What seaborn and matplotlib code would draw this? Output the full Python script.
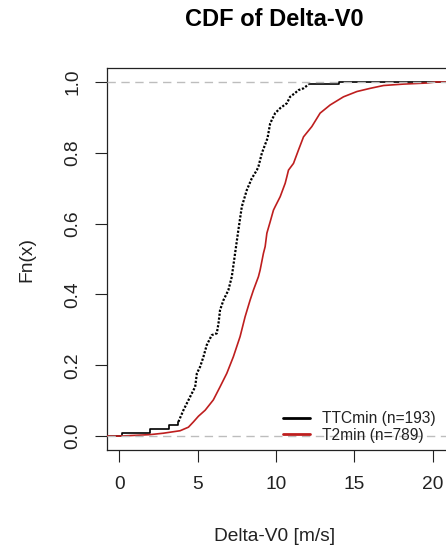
import matplotlib
matplotlib.use("Agg")
import matplotlib.pyplot as plt
import pandas as pd
import seaborn as sns

# ---- data (ECDF outline points) ----
ttc_x = [-1.0, 0.15, 0.15, 1.97, 1.97, 3.2, 3.2, 3.77, 3.77, 4.09, 4.52, 4.84, 4.95,
         5.16, 5.37, 5.58, 5.9, 6.22, 6.33, 6.43, 6.65, 6.96, 7.18, 7.39, 7.6, 7.82,
         8.14, 8.46, 8.78, 8.88, 9.1, 9.46, 9.63, 9.95, 10.27, 10.7, 10.9, 11.2, 11.44,
         11.76, 12.08, 14.0, 14.0, 22.0]
ttc_f = [0.0, 0.0, 0.008, 0.008, 0.02, 0.02, 0.031, 0.031, 0.04, 0.073, 0.111, 0.139, 0.177,
         0.196, 0.224, 0.257, 0.285, 0.29, 0.318, 0.356, 0.384, 0.412, 0.45, 0.516, 0.582, 0.648,
         0.695, 0.728, 0.751, 0.761, 0.799, 0.841, 0.883, 0.912, 0.926, 0.94, 0.958, 0.968, 0.977,
         0.982, 0.993, 0.993, 1.0, 1.0]

t2_x = [-1.0, 0.1, 1.96, 2.81, 3.88, 4.41, 4.73, 5.05, 5.48, 6.0, 6.43, 6.86, 7.28, 7.71,
        8.03, 8.35, 8.56, 8.88, 8.99, 9.2, 9.31, 9.42, 9.63, 9.84, 9.95, 10.27, 10.59, 10.7,
        10.8, 11.12, 11.44, 11.76, 12.29, 12.82, 13.46, 14.31, 15.17, 16.02, 16.87, 18.15,
        19.64, 20.2, 22.0]
t2_f = [0.0, 0.0, 0.004, 0.008, 0.015, 0.025, 0.04, 0.056, 0.073, 0.102, 0.139, 0.177, 0.224, 0.281,
        0.337, 0.384, 0.412, 0.45, 0.469, 0.516, 0.535, 0.573, 0.605, 0.638, 0.648, 0.676, 0.714, 0.733,
        0.751, 0.77, 0.808, 0.845, 0.874, 0.912, 0.935, 0.958, 0.973, 0.982, 0.99, 0.994,
        0.997, 1.0, 1.0]

x_ticks = [0, 5, 10, 15, 20]
y_ticks = [0.0, 0.2, 0.4, 0.6, 0.8, 1.0]
series_labels = ["TTCmin (n=193)", "T2min (n=789)"]
title = "CDF of Delta-V0"
x_label = "Delta-V0 [m/s]"
y_label = "Fn(x)"

# ---- style ----
sns.set_style("ticks")
plt.rcParams["font.family"] = ["Liberation Sans", "DejaVu Sans"]

W, H = 446, 554
fig = plt.figure(figsize=(W / 100, H / 100), dpi=100)
ax_l, ax_r, ax_t, ax_b = 107, 448.2, 67.8, 450.2
ax = fig.add_axes([ax_l / W, (H - ax_b) / H, (ax_r - ax_l) / W, (ax_b - ax_t) / H])

red = "#BE1E1E"
ttc = pd.DataFrame({"x": ttc_x, "F": ttc_f})
t2 = pd.DataFrame({"x": t2_x, "F": t2_f})
lo, hi = 8, 40

sns.lineplot(data=ttc.iloc[:lo + 1], x="x", y="F", sort=False, estimator=None,
             color="black", lw=1.2, ax=ax, zorder=2, label=series_labels[0], legend=False)
sns.lineplot(data=ttc.iloc[lo:hi + 1], x="x", y="F", sort=False, estimator=None,
             color="black", lw=1.6, linestyle=(0, (1.0, 0.75)), ax=ax, zorder=2, legend=False)
sns.lineplot(data=ttc.iloc[hi:], x="x", y="F", sort=False, estimator=None,
             color="black", lw=1.2, ax=ax, zorder=2, legend=False)
sns.lineplot(data=t2, x="x", y="F", sort=False, estimator=None,
             color=red, lw=1.2, ax=ax, zorder=3, label=series_labels[1], legend=False)

for v in (0.0, 1.0):
    ax.axhline(v, color="#BDBDBD", lw=1.0, linestyle=(0, (6, 4)), zorder=4)

ax.set_xlim(-0.79, 21.0)
ax.set_ylim(-0.04, 1.04)
ax.set_xticks(x_ticks)
ax.set_xticklabels([str(t) for t in x_ticks])
ax.set_yticks(y_ticks)
ax.set_yticklabels([f"{t:.1f}" for t in y_ticks])
ax.tick_params(axis="both", length=8.6, width=0.8, color="#222222", pad=10,
               labelsize=13.8, labelcolor="#222222")
ax.tick_params(axis="y", labelrotation=90)
for lab in ax.get_yticklabels():
    lab.set_va("center")
for s in ax.spines.values():
    s.set_color("#222222")
    s.set_linewidth(0.9)

ax.set_xlabel(x_label, fontsize=13.8, color="#222222")
ax.set_ylabel(y_label, fontsize=13.8, color="#222222")
ax.xaxis.set_label_coords((274.5 - ax_l) / (ax_r - ax_l), (ax_b - 536.7) / (ax_b - ax_t))
ax.xaxis.label.set_va("center")
ax.yaxis.set_label_coords((26.7 - ax_l) / (ax_r - ax_l), 0.5)
ax.yaxis.label.set_va("center")

handles, labels = ax.get_legend_handles_labels()
leg = ax.legend(handles, labels, loc="lower left", bbox_to_anchor=(0.515, 0.02),
                frameon=False, fontsize=11.2, handlelength=1.75, handletextpad=0.8,
                labelspacing=0.1, borderpad=0, borderaxespad=0)
for line in leg.get_lines():
    line.set_linestyle("-")
    line.set_linewidth(2.0)
for t in leg.get_texts():
    t.set_color("#222222")

fig.text(274.5 / W, 1 - 20 / H, title, ha="center", va="center",
         fontsize=17, fontweight="bold", color="black")

fig.savefig("out.png", dpi=100)
